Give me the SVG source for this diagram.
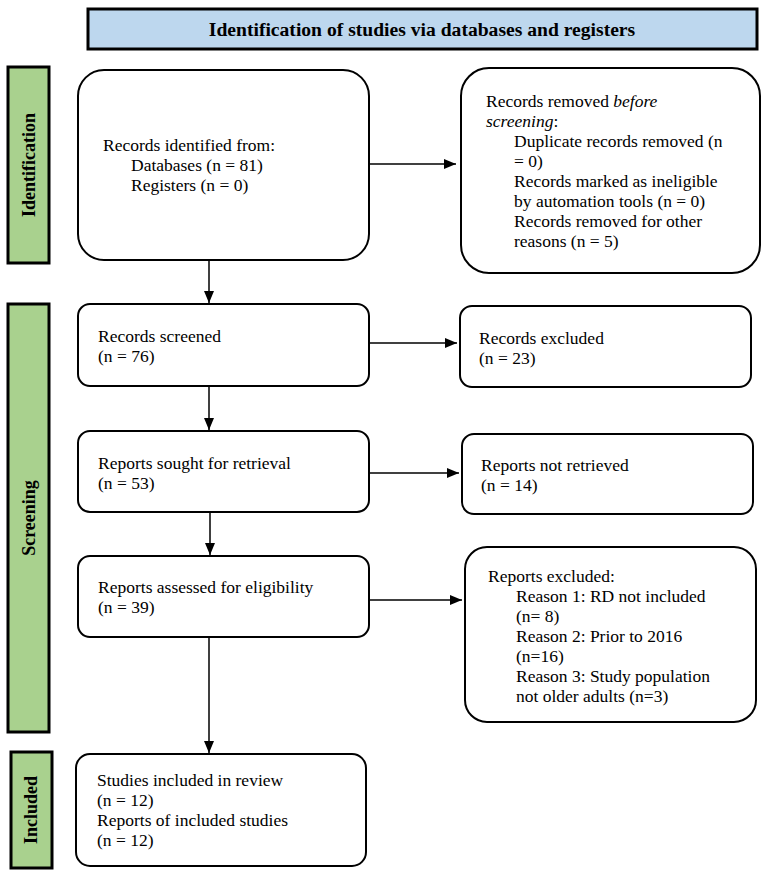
<svg xmlns="http://www.w3.org/2000/svg" width="765" height="876" viewBox="0 0 765 876" font-family="'Liberation Serif', 'Times New Roman', Times, serif">
<defs>
<marker id="ah" viewBox="0 0 12 10" refX="12" refY="5" markerWidth="12" markerHeight="10" markerUnits="userSpaceOnUse" orient="auto">
<path d="M0,0 L12,5 L0,10 z" fill="#000"/>
</marker>
</defs>
<style>
.box{fill:#fff;stroke:#000;stroke-width:2}
.side{fill:#a9d18e;stroke:#000;stroke-width:3}
text{font-family:'Liberation Serif','Times New Roman',Times,serif}
.t{font-size:17.5px;font-weight:normal;fill:#000}
.st{font-size:18px;font-weight:bold;fill:#000}
.tt{font-size:19.6px;font-weight:bold;fill:#000}
.con{stroke:#000;stroke-width:1.5;fill:none;marker-end:url(#ah)}
</style>
<rect width="765" height="876" fill="#fff"/>
<g id="title">
<rect x="88" y="9" width="669" height="40" fill="#bdd7ee" stroke="#000" stroke-width="3"/>
<text class="tt" x="422" y="36" text-anchor="middle">Identification of studies via databases and registers</text>
</g>
<g id="side-identification">
<rect class="side" x="8" y="67" width="41" height="196"/>
<text class="st" transform="translate(35,165) rotate(-90)" text-anchor="middle">Identification</text>
</g>
<g id="side-screening">
<rect class="side" x="8" y="304" width="41" height="428"/>
<text class="st" transform="translate(35,518) rotate(-90)" text-anchor="middle">Screening</text>
</g>
<g id="side-included">
<rect class="side" x="11" y="752" width="41" height="116"/>
<text class="st" transform="translate(37,810) rotate(-90)" text-anchor="middle">Included</text>
</g>
<g id="n1">
<rect class="box" x="78" y="70" width="291" height="190" rx="26"/>
<text class="t" x="103" y="151">Records identified from:</text>
<text class="t" x="131" y="171">Databases (n = 81)</text>
<text class="t" x="131" y="191">Registers (n = 0)</text>
</g>
<g id="n2">
<rect class="box" x="461" y="68" width="299" height="205" rx="28"/>
<text class="t" x="486" y="107">Records removed <tspan font-style="italic">before</tspan></text>
<text class="t" x="486" y="127"><tspan font-style="italic">screening</tspan>:</text>
<text class="t" x="514" y="147">Duplicate records removed (n</text>
<text class="t" x="514" y="167">= 0)</text>
<text class="t" x="514" y="187">Records marked as ineligible</text>
<text class="t" x="514" y="207">by automation tools (n = 0)</text>
<text class="t" x="514" y="227">Records removed for other</text>
<text class="t" x="514" y="247">reasons (n = 5)</text>
</g>
<g id="n3">
<rect class="box" x="78" y="304" width="291" height="82" rx="12"/>
<text class="t" x="98" y="342">Records screened</text>
<text class="t" x="98" y="362">(n = 76)</text>
</g>
<g id="n4">
<rect class="box" x="460" y="306" width="291" height="81" rx="12"/>
<text class="t" x="479" y="344">Records excluded</text>
<text class="t" x="479" y="364">(n = 23)</text>
</g>
<g id="n5">
<rect class="box" x="78" y="431" width="291" height="81" rx="12"/>
<text class="t" x="98" y="469">Reports sought for retrieval</text>
<text class="t" x="98" y="489">(n = 53)</text>
</g>
<g id="n6">
<rect class="box" x="462" y="434" width="291" height="80" rx="12"/>
<text class="t" x="481" y="471">Reports not retrieved</text>
<text class="t" x="481" y="491">(n = 14)</text>
</g>
<g id="n7">
<rect class="box" x="78" y="556" width="291" height="81" rx="12"/>
<text class="t" x="98" y="593">Reports assessed for eligibility</text>
<text class="t" x="98" y="613">(n = 39)</text>
</g>
<g id="n8">
<rect class="box" x="465" y="547" width="291" height="175" rx="22"/>
<text class="t" x="488" y="582">Reports excluded:</text>
<text class="t" x="516" y="602">Reason 1: RD not included</text>
<text class="t" x="516" y="622">(n= 8)</text>
<text class="t" x="516" y="642">Reason 2: Prior to 2016</text>
<text class="t" x="516" y="662">(n=16)</text>
<text class="t" x="516" y="682">Reason 3: Study population</text>
<text class="t" x="516" y="702">not older adults (n=3)</text>
</g>
<g id="n9">
<rect class="box" x="76" y="754" width="290" height="112" rx="14"/>
<text class="t" x="97" y="786">Studies included in review</text>
<text class="t" x="97" y="806">(n = 12)</text>
<text class="t" x="97" y="826">Reports of included studies</text>
<text class="t" x="97" y="846">(n = 12)</text>
</g>
<g id="connectors">
<line class="con" x1="369" y1="164" x2="456" y2="164"/>
<line class="con" x1="209" y1="260" x2="209" y2="303"/>
<line class="con" x1="369" y1="343" x2="457" y2="343"/>
<line class="con" x1="209" y1="386" x2="209" y2="430"/>
<line class="con" x1="370" y1="473" x2="459" y2="473"/>
<line class="con" x1="210" y1="512" x2="210" y2="555"/>
<line class="con" x1="370" y1="600" x2="462" y2="600"/>
<line class="con" x1="209" y1="637" x2="209" y2="753"/>
</g>
</svg>
